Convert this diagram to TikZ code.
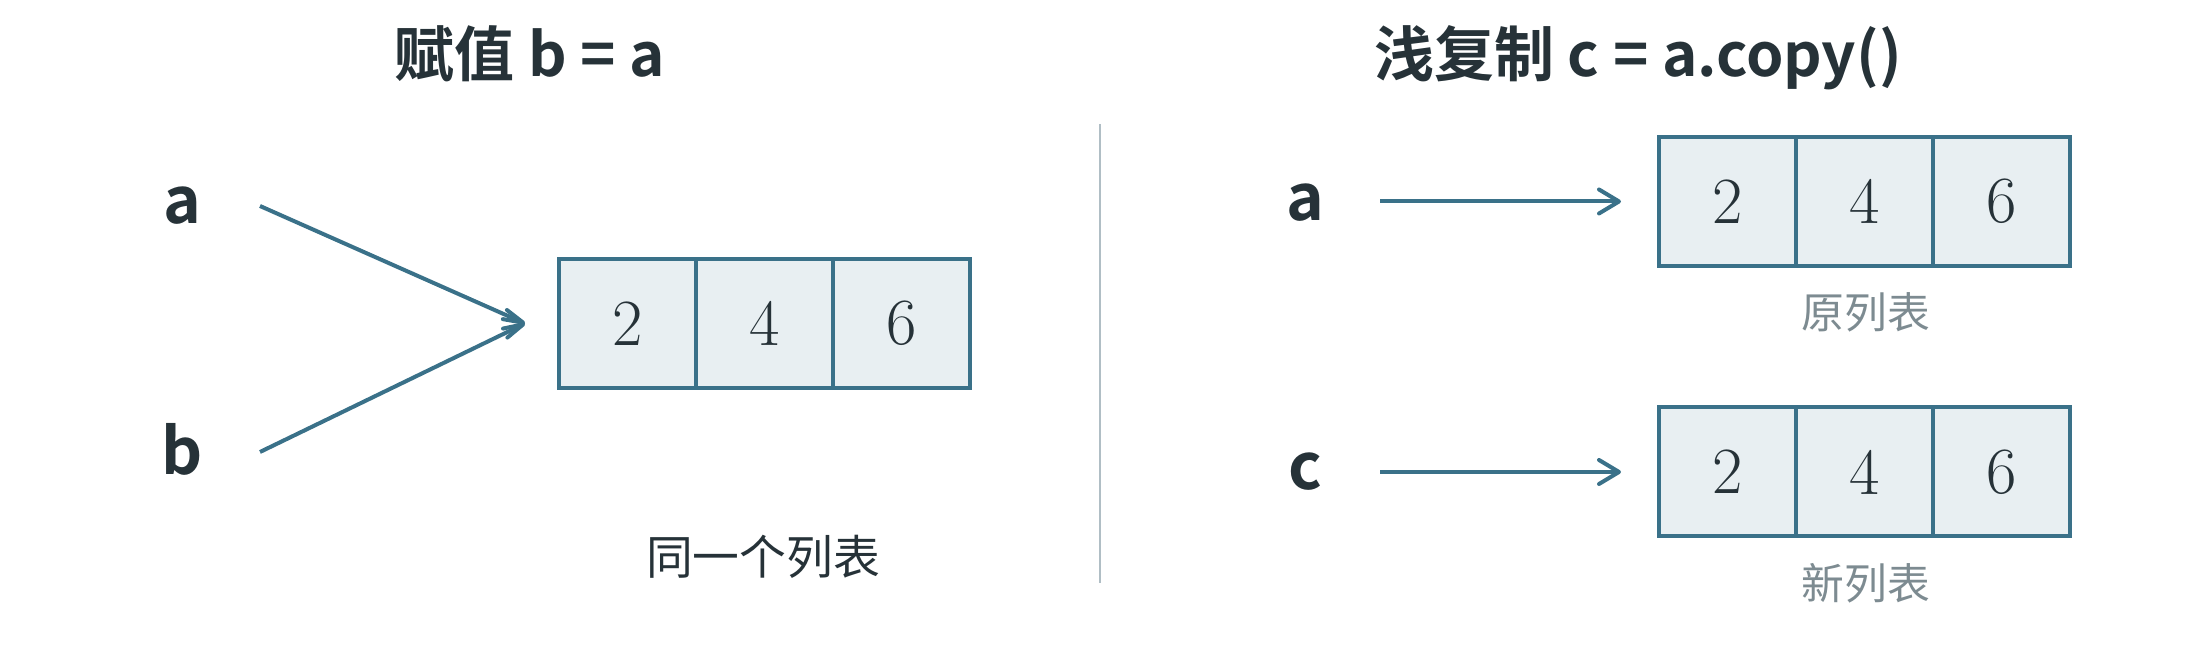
\documentclass[tikz,border=0pt]{standalone}
\usepackage{fontspec}
\newfontfamily\cjk{Noto Sans CJK SC}[BoldFont={Noto Sans CJK SC Bold}]
\usetikzlibrary{arrows.meta,positioning}

\definecolor{linecol}{HTML}{3A7189}
\definecolor{cellfill}{HTML}{E8EFF2}
\definecolor{ink}{HTML}{263238}
\definecolor{muted}{HTML}{7D8B91}
\definecolor{rule}{HTML}{B0BEC5}

\tikzset{
  title/.style={anchor=base, inner sep=0pt, text=ink, font=\cjk\bfseries\fontsize{15}{15}\selectfont},
  var/.style={anchor=base, inner sep=0pt, text=ink, font=\cjk\bfseries\fontsize{16}{16}\selectfont},
  cell/.style={draw=linecol, fill=cellfill, line width=1pt, inner sep=0pt,
    minimum width=34.25pt, minimum height=32.25pt, text=ink,
    font=\fontsize{16.5}{16.5}\selectfont},
  note/.style={inner sep=0pt, text=ink, font=\cjk\fontsize{11.7}{11.7}\selectfont},
  tag/.style={inner sep=0pt, text=muted, font=\cjk\fontsize{10.7}{10.7}\selectfont},
  ptr/.style={draw=linecol, line width=1pt, -{Straight Barb[length=5pt,width=6pt,round]}},
  slimptr/.style={draw=linecol, line width=1pt, -{Straight Barb[length=5pt,width=2.5pt,round]}},
  divider/.style={draw=rule, line width=0.5pt}
}

\begin{document}
\begin{tikzpicture}[x=0.25pt,y=-0.25pt]
    \useasboundingbox (0,0) rectangle (2200,660);

    % Titles
    \node[title] (tleft) at (530,77) {赋值 b = a};
    \node[title] (tright) at (1638,77) {浅复制 c = a.copy()};

    % Divider
    \draw[divider] (1100,124)--(1100,583);

    % Assignment: both names on one list
    \node[var] (va) at (182,224) {a};
    \node[var] (vb) at (182,475) {b};
    \foreach \v [count=\i] in {2,4,6}{
    \node[cell] (L\i) at ({490.5+137*\i},323.5) {\v};
    }
    \node[note] (same) at (763,557) {同一个列表};

    \coordinate (astart) at (260,206);
    \coordinate (bstart) at (260,452);
    \coordinate[left=8pt of L1.west] (meet);
    \draw[slimptr] (astart)--(meet);
    \draw[slimptr] (bstart)--(meet);

    % Shallow copy: two lists
    \node[var] (va2) at (1305,221) {a};
    \node[var] (vc2) at (1305,490) {c};
    \foreach \v [count=\i] in {2,4,6}{
    \node[cell] (R\i) at ({1590.5+137*\i},201.5) {\v};
    \node[cell] (C\i) at ({1590.5+137*\i},472) {\v};
    }
    \node[tag] (orig) at (1866,312) {原列表};
    \node[tag] (fresh) at (1866,583) {新列表};

    \coordinate (a2start) at (1380,201.5);
    \coordinate (c2start) at (1380,472);
    \draw[ptr, shorten >=9pt] (a2start)--(R1.west);
    \draw[ptr, shorten >=9pt] (c2start)--(C1.west);

\end{tikzpicture}
\end{document}
